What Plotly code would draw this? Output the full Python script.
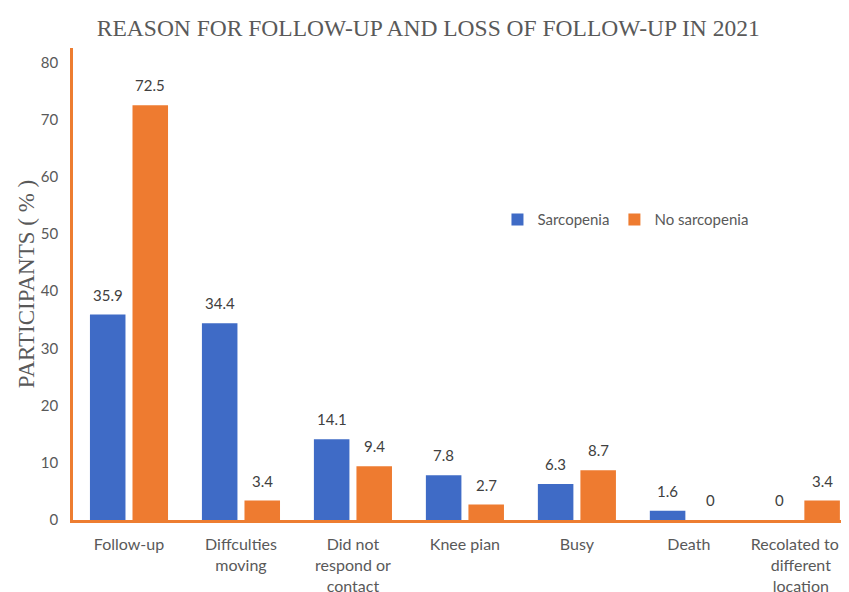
import plotly.graph_objects as go

categories = ["Follow-up", "Diffculties<br>moving", "Did not<br>respond or<br>contact",
              "Knee pian", "Busy", "Death", "Recolated to a<br>different<br>location"]
sarcopenia = [35.9, 34.4, 14.1, 7.8, 6.3, 1.6, 0]
no_sarcopenia = [72.5, 3.4, 9.4, 2.7, 8.7, 0, 3.4]
y_ticks = [0, 10, 20, 30, 40, 50, 60, 70, 80]

BARGAP = 0.24
GROUPGAP = 0.165
SANS = "Lato, Open Sans, sans-serif"
SERIF = "Liberation Serif, Times New Roman, serif"

fig = go.Figure()
fig.add_trace(go.Bar(name="Sarcopenia", x=categories, y=sarcopenia,
                     marker=dict(color="#3F6BC6", line=dict(width=0))))
fig.add_trace(go.Bar(name="No sarcopenia", x=categories, y=no_sarcopenia,
                     marker=dict(color="#EE7B30", line=dict(width=0))))

# data labels placed over each bar of the group
slot = (1 - BARGAP) / 2
for k, series in enumerate([sarcopenia, no_sarcopenia]):
    off = (k - 0.5) * slot
    for i, v in enumerate(series):
        fig.add_annotation(x=i + off, y=v, text=f"{v:g}", showarrow=False,
                           xref="x", yref="y", yanchor="middle", yshift=20,
                           font=dict(family=SANS, size=15, color="#404040"))

fig.update_layout(
    width=849, height=592,
    paper_bgcolor="white", plot_bgcolor="white",
    margin=dict(l=65, r=8, t=40, b=80),
    barmode="group", bargap=BARGAP, bargroupgap=GROUPGAP,
    title=dict(text="REASON FOR FOLLOW-UP AND LOSS OF FOLLOW-UP IN 2021",
               font=dict(family=SERIF, size=23.5, color="#595959"),
               x=0.495, xanchor="center", y=0.966, yanchor="middle", automargin=False),
    legend=dict(orientation="h", x=0.547, y=0.636, xanchor="left", yanchor="middle",
                font=dict(family=SANS, size=15, color="#595959"),
                bgcolor="rgba(0,0,0,0)", traceorder="normal"),
    font=dict(family=SANS, color="#595959"),
)
fig.update_yaxes(
    range=[0, 82.5], tickvals=y_ticks, showgrid=False, zeroline=False, automargin=False,
    showline=True, linecolor="#ED7D31", linewidth=2.5,
    tickfont=dict(family=SANS, size=15, color="#595959"),
    ticks="", ticklabelstandoff=9,
    title=dict(text="PARTICIPANTS ( % )", font=dict(family=SERIF, size=23, color="#595959"),
               standoff=0),
)
fig.update_xaxes(
    range=[-0.5, 6.43], showgrid=False, showline=True, automargin=False,
    linecolor="#ED7D31", linewidth=2.5,
    tickfont=dict(family=SANS, size=16, color="#595959"),
    ticks="", ticklabelstandoff=8,
)

fig.write_html("out.html")
